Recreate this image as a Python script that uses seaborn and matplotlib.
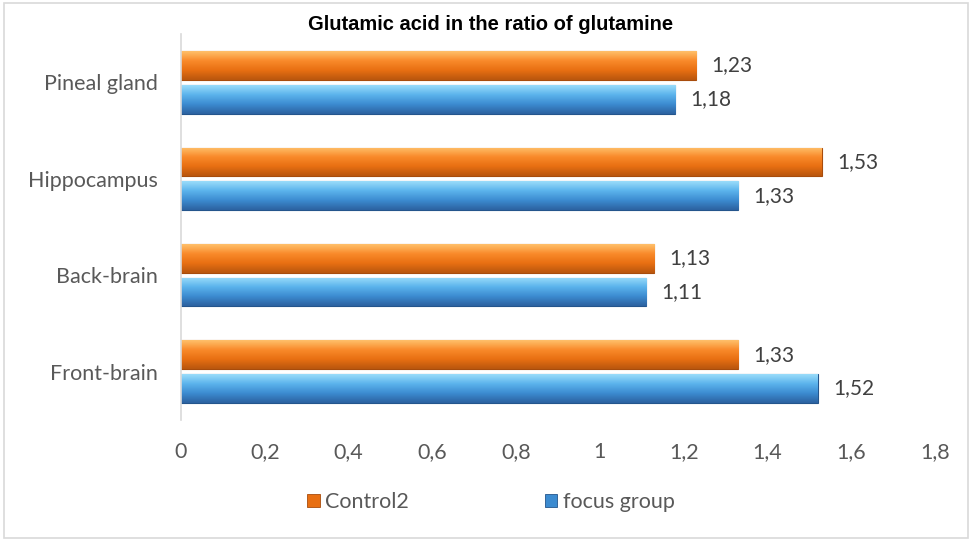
import matplotlib
matplotlib.use("Agg")
import matplotlib.pyplot as plt
import numpy as np
import pandas as pd
import seaborn as sns
from matplotlib.colors import LinearSegmentedColormap
from matplotlib.patches import Rectangle

# ─── data ────────────────────────────────────────────────────────────────────
REGIONS = ["Pineal gland", "Hippocampus", "Back-brain", "Front-brain"]
GROUPS = ["Control2", "focus group"]
CONTROL2 = [1.23, 1.53, 1.13, 1.33]
FOCUS = [1.18, 1.33, 1.11, 1.52]
XTICKS = [0, 0.2, 0.4, 0.6, 0.8, 1, 1.2, 1.4, 1.6, 1.8]

# gradient stops (top -> bottom of each bar)
GRAD = {
    "Control2": ["#FFC06A", "#F98A2A", "#E86F12", "#B9560E"],
    "focus group": ["#9ADCFA", "#5BB3EC", "#3C8BD0", "#2C62A0"],
}
EDGE = {"Control2": "#A84C0C", "focus group": "#24558C"}

df = pd.DataFrame({
    "region": REGIONS * 2,
    "group": [GROUPS[0]] * len(REGIONS) + [GROUPS[1]] * len(REGIONS),
    "value": CONTROL2 + FOCUS,
})

sns.set_style("white")
plt.rcParams["font.family"] = ["Lato", "DejaVu Sans"]

fig = plt.figure(figsize=(9.7, 5.41), dpi=100)
ax = fig.add_axes([0.1866, 0.224, 0.7774, 0.713])

sns.barplot(data=df, x="value", y="region", hue="group", order=REGIONS,
            hue_order=GROUPS, orient="h", width=0.70, gap=0.15,
            palette=[GRAD[g][2] for g in GROUPS], legend=False, ax=ax,
            errorbar=None)

# gradient fill clipped to each bar
for cont, grp in zip(ax.containers, GROUPS):
    cmap = LinearSegmentedColormap.from_list(grp, GRAD[grp])
    grad = np.linspace(0, 1, 64).reshape(-1, 1)
    for p in cont.patches:
        x0, y0 = p.get_x(), p.get_y()
        w, h = p.get_width(), p.get_height()
        # y axis is inverted: y0 is the top of the bar on screen
        im = ax.imshow(grad, cmap=cmap, aspect="auto",
                       extent=(x0, x0 + w, y0 + h, y0), zorder=2.5,
                       interpolation="bicubic")
        im.set_clip_path(p)
        p.set_edgecolor(EDGE[grp])
        p.set_linewidth(0.8)
    labels = [f"{v:.2f}".replace(".", ",") for v in cont.datavalues]
    ax.bar_label(cont, labels=labels, padding=11, fontsize=15,
                 color="#404040")

ax.set_xlim(0, 1.8)
ax.set_ylim(3.5, -0.5)
ax.set_xticks(XTICKS)
ax.set_xticklabels([f"{t:g}".replace(".", ",") for t in XTICKS])
ax.tick_params(axis="both", length=0, labelsize=15.5, colors="#595959")
ax.tick_params(axis="x", pad=16)
ax.tick_params(axis="y", pad=17)
ax.set_xlabel("")
ax.set_ylabel("")
for side in ["top", "right", "bottom"]:
    ax.spines[side].set_visible(False)
ax.spines["left"].set_color("#D9D9D9")
ax.spines["left"].set_linewidth(1.2)
ax.grid(False)

fig.text(0.506, 0.955, "Glutamic acid in the ratio of glutamine",
         ha="center", va="center", fontsize=14.5, weight="bold",
         family=["Liberation Sans", "DejaVu Sans"], color="black")

handles = [Rectangle((0, 0), 1, 1, facecolor=GRAD[g][2], edgecolor=EDGE[g],
                     lw=0.6) for g in GROUPS]
fig.legend(handles, GROUPS, loc="center", bbox_to_anchor=(0.506, 0.072),
           ncol=2, frameon=False, fontsize=15.5, handlelength=0.6,
           handleheight=0.6, handletextpad=0.25, columnspacing=6.3,
           labelcolor="#595959")

fig.patches.append(Rectangle((0.004, 0.006), 0.994, 0.988,
                             transform=fig.transFigure, fill=False,
                             edgecolor="#D9D9D9", lw=1.2))

fig.savefig("out.png", dpi=100)
